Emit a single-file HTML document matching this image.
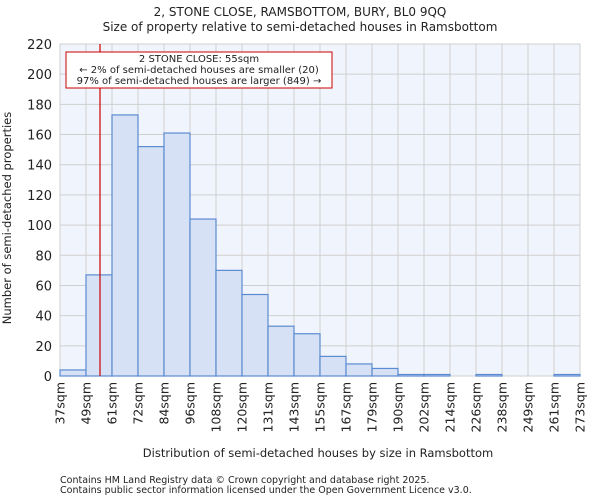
<!DOCTYPE html>
<html><head><meta charset="utf-8"><style>
body{margin:0;background:#fff;font-family:"DejaVu Sans","Liberation Sans",sans-serif}
svg text{font-family:"DejaVu Sans","Liberation Sans",sans-serif;fill:#222}
</style></head><body>
<svg id="c" width="600" height="500">
<text x="300" y="16" font-size="12" text-anchor="middle">2, STONE CLOSE, RAMSBOTTOM, BURY, BL0 9QQ</text>
<text x="300" y="31" font-size="12" text-anchor="middle">Size of property relative to semi-detached houses in Ramsbottom</text>
<rect x="60" y="44" width="520" height="332" fill="#f0f4fd"/>
<g id="grid"></g><g id="bars"></g><g id="ticks"></g>
<line x1="100" y1="44" x2="100" y2="376" stroke="#cc0000" stroke-width="1.2"/>
<rect x="66" y="52" width="266" height="36" fill="#fff" stroke="#cc0000"/>
<text x="199" y="62" font-size="10" text-anchor="middle">2 STONE CLOSE: 55sqm</text>
<text x="199" y="73" font-size="10" text-anchor="middle">← 2% of semi-detached houses are smaller (20)</text>
<text x="199" y="84" font-size="10" text-anchor="middle">97% of semi-detached houses are larger (849) →</text>
<text x="318" y="457" font-size="11.5" text-anchor="middle">Distribution of semi-detached houses by size in Ramsbottom</text>
<text transform="translate(11,218) rotate(-90)" font-size="11.5" text-anchor="middle">Number of semi-detached properties</text>
<text x="60" y="483" font-size="9.5" fill="#555">Contains HM Land Registry data © Crown copyright and database right 2025.</text>
<text x="60" y="493" font-size="9.5" fill="#555">Contains public sector information licensed under the Open Government Licence v3.0.</text>
</svg>
<script>
const categories=["37sqm","49sqm","61sqm","72sqm","84sqm","96sqm","108sqm","120sqm","131sqm","143sqm","155sqm","167sqm","179sqm","190sqm","202sqm","214sqm","226sqm","238sqm","249sqm","261sqm","273sqm"];
const counts=[4,67,173,152,161,104,70,54,33,28,13,8,5,1,1,0,1,0,0,1];
const yTicks=[0,20,40,60,80,100,120,140,160,180,200,220];
const X0=60,X1=580,Y0=376,Y1=44,YMAX=220;
const bw=(X1-X0)/counts.length;
const xs=i=>X0+i*bw, ys=v=>Y0-(v/YMAX)*(Y0-Y1);
const NS="http://www.w3.org/2000/svg";
function mk(t,a,p){const e=document.createElementNS(NS,t);for(const k in a)e.setAttribute(k,a[k]);p.appendChild(e);return e;}
const g=document.getElementById('grid'),b=document.getElementById('bars'),tk=document.getElementById('ticks');
yTicks.forEach(v=>{const l=mk('line',{x1:X0,x2:X1,y1:ys(v),y2:ys(v),stroke:'#cfcfcf'},g);


const t=mk('text',{x:X0-8,y:ys(v)+5,'font-size':13,'text-anchor':'end'},tk);t.textContent=v;

});
categories.forEach((c,i)=>{const x=xs(i);const l=mk('line',{x1:x,x2:x,y1:Y1,y2:Y0,stroke:'#cfcfcf'},g);


const t=mk('text',{transform:`translate(${x+4.5},382) rotate(-90)`,'font-size':12.5,'text-anchor':'end'},tk);t.textContent=c;

});
counts.forEach((v,i)=>{const r=mk('rect',{x:xs(i),y:ys(v),width:bw,height:Y0-ys(v),fill:'#d6e1f5',stroke:'#5b8bd0','stroke-width':1.2},b);

});
</script>
</body></html>
